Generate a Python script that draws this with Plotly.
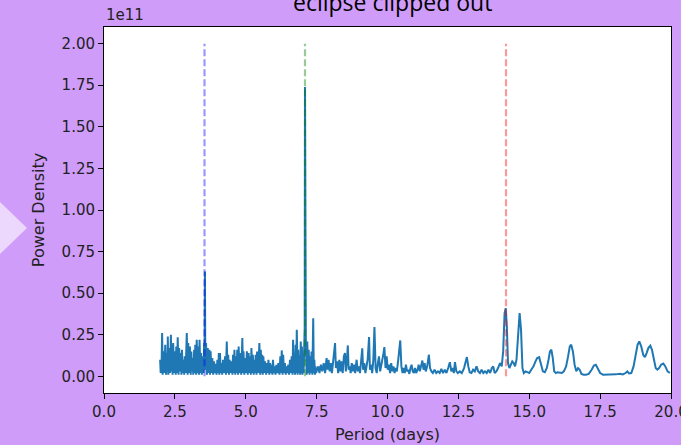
import plotly.graph_objects as go

# ---------------- data (power in units of 1e11) ----------------
period_dense = [
    1.98, 2.00, 2.03, 2.05, 2.07, 2.10, 2.13, 2.16, 2.19, 2.22,
    2.24, 2.25, 2.27, 2.30, 2.33, 2.36, 2.38, 2.40, 2.42, 2.44,
    2.47, 2.50, 2.53, 2.55, 2.58, 2.60, 2.63, 2.65, 2.68, 2.70,
    2.73, 2.75, 2.78, 2.80, 2.83, 2.85, 2.88, 2.92, 2.95, 2.97,
    3.00, 3.03, 3.06, 3.08, 3.10, 3.12, 3.15, 3.18, 3.20, 3.22,
    3.25, 3.27, 3.30, 3.32, 3.35, 3.37, 3.40, 3.42, 3.45, 3.48,
    3.51, 3.53, 3.545, 3.56, 3.575, 3.60, 3.63, 3.66, 3.69, 3.72,
    3.74, 3.76, 3.79, 3.82, 3.85, 3.88, 3.91, 3.94, 3.97, 4.00,
    4.03, 4.05, 4.07, 4.09, 4.12, 4.14, 4.17, 4.20, 4.24, 4.27,
    4.30, 4.33, 4.36, 4.38, 4.41, 4.43, 4.47, 4.50, 4.53, 4.55,
    4.58, 4.60, 4.63, 4.66, 4.68, 4.70, 4.73, 4.75, 4.78, 4.80,
    4.84, 4.88, 4.90, 4.92, 4.95, 4.98, 5.01, 5.04, 5.07, 5.10,
    5.13, 5.15, 5.18, 5.20, 5.23, 5.25, 5.28, 5.30, 5.33, 5.35,
    5.38, 5.40, 5.44, 5.48, 5.51, 5.53, 5.56, 5.58, 5.60, 5.62,
    5.65, 5.68, 5.72, 5.75, 5.78, 5.80, 5.83, 5.86, 5.89, 5.92,
    5.94, 5.96, 5.99, 6.02, 6.05, 6.08, 6.12, 6.15, 6.19, 6.22,
    6.25, 6.27, 6.30, 6.32, 6.35, 6.38, 6.41, 6.44, 6.47, 6.50,
    6.53, 6.56, 6.59, 6.62, 6.65, 6.67, 6.70, 6.72, 6.74, 6.76,
    6.78, 6.80, 6.83, 6.85, 6.88, 6.90, 6.92, 6.94, 6.96, 6.98,
    7.00, 7.02, 7.04, 7.06, 7.08, 7.09, 7.10, 7.12, 7.15, 7.17,
    7.20, 7.22, 7.25, 7.27, 7.30, 7.32, 7.35, 7.38, 7.40, 7.42,
    7.44, 7.46, 7.48,
]
power_dense = [
    0.10, 0.02, 0.05, 0.26, 0.01, 0.15, 0.02, 0.19, 0.01, 0.14,
    0.03, 0.24, 0.01, 0.17, 0.02, 0.25, 0.03, 0.19, 0.01, 0.20,
    0.02, 0.15, 0.01, 0.18, 0.02, 0.235, 0.01, 0.17, 0.03, 0.14,
    0.01, 0.16, 0.02, 0.10, 0.01, 0.12, 0.02, 0.26, 0.01, 0.20,
    0.02, 0.18, 0.01, 0.15, 0.03, 0.11, 0.01, 0.16, 0.02, 0.19,
    0.01, 0.22, 0.02, 0.18, 0.01, 0.22, 0.02, 0.14, 0.01, 0.12,
    0.02, 0.20, 0.05, 0.63, 0.04, 0.20, 0.01, 0.17, 0.02, 0.16,
    0.01, 0.15, 0.02, 0.11, 0.01, 0.09, 0.02, 0.075, 0.01, 0.10,
    0.02, 0.14, 0.01, 0.14, 0.02, 0.08, 0.01, 0.10, 0.02, 0.12,
    0.01, 0.21, 0.02, 0.13, 0.01, 0.10, 0.02, 0.09, 0.01, 0.13,
    0.02, 0.16, 0.01, 0.12, 0.02, 0.16, 0.01, 0.18, 0.02, 0.14,
    0.01, 0.23, 0.02, 0.15, 0.01, 0.11, 0.02, 0.15, 0.01, 0.14,
    0.02, 0.12, 0.01, 0.17, 0.02, 0.13, 0.01, 0.10, 0.02, 0.13,
    0.01, 0.15, 0.02, 0.20, 0.01, 0.16, 0.02, 0.13, 0.01, 0.12,
    0.02, 0.09, 0.01, 0.08, 0.02, 0.10, 0.01, 0.08, 0.02, 0.07,
    0.01, 0.10, 0.02, 0.06, 0.01, 0.07, 0.02, 0.08, 0.01, 0.12,
    0.02, 0.156, 0.01, 0.13, 0.02, 0.08, 0.01, 0.06, 0.02, 0.07,
    0.01, 0.10, 0.02, 0.12, 0.01, 0.22, 0.02, 0.14, 0.01, 0.19,
    0.02, 0.28, 0.01, 0.16, 0.02, 0.12, 0.01, 0.21, 0.02, 0.18,
    0.01, 0.10, 0.02, 0.20, 0.30, 1.74, 0.30, 0.20, 0.01, 0.21,
    0.02, 0.16, 0.01, 0.12, 0.02, 0.15, 0.01, 0.35, 0.02, 0.10,
    0.01, 0.06, 0.02,
]

period_mid = [
    7.52, 7.56, 7.60, 7.65, 7.70, 7.75, 7.80, 7.85, 7.88, 7.92,
    7.96, 8.00, 8.04, 8.10, 8.15, 8.18, 8.22, 8.26, 8.30, 8.34,
    8.38, 8.42, 8.46, 8.50, 8.53, 8.57, 8.60, 8.63, 8.67, 8.70,
    8.74, 8.78, 8.82, 8.86, 8.91, 8.95, 8.99, 9.03, 9.07, 9.11,
    9.14, 9.18, 9.22, 9.26, 9.30, 9.35, 9.38, 9.42, 9.46, 9.50,
    9.54, 9.58, 9.62, 9.66, 9.70, 9.74, 9.78, 9.82, 9.86, 9.89,
    9.93, 9.97, 10.01, 10.05, 10.09, 10.13, 10.17, 10.21, 10.25, 10.29,
    10.33, 10.38, 10.42, 10.45, 10.49, 10.53, 10.57, 10.61, 10.65, 10.69,
    10.73, 10.77, 10.81, 10.85, 10.89, 10.93, 10.97, 11.01, 11.06, 11.10,
    11.14, 11.18, 11.23, 11.27, 11.31, 11.35, 11.40, 11.46, 11.50, 11.55,
    11.60, 11.66, 11.72, 11.78, 11.84, 11.90, 11.96,
]
power_mid = [
    0.04, 0.06, 0.02, 0.07, 0.03, 0.08, 0.02, 0.11, 0.04, 0.10,
    0.03, 0.08, 0.02, 0.14, 0.20, 0.05, 0.09, 0.02, 0.10, 0.03,
    0.09, 0.02, 0.12, 0.14, 0.03, 0.10, 0.186, 0.04, 0.06, 0.02,
    0.08, 0.03, 0.07, 0.02, 0.10, 0.03, 0.06, 0.02, 0.09, 0.168,
    0.04, 0.08, 0.02, 0.06, 0.10, 0.236, 0.04, 0.07, 0.02, 0.10,
    0.296, 0.05, 0.02, 0.08, 0.12, 0.03, 0.06, 0.10, 0.14, 0.176,
    0.05, 0.12, 0.04, 0.07, 0.02, 0.08, 0.03, 0.06, 0.02, 0.05,
    0.03, 0.10, 0.18, 0.216, 0.06, 0.02, 0.05, 0.02, 0.07, 0.03,
    0.04, 0.015, 0.05, 0.07, 0.03, 0.02, 0.05, 0.02, 0.04, 0.07,
    0.03, 0.06, 0.095, 0.04, 0.08, 0.03, 0.06, 0.13, 0.05, 0.03,
    0.02, 0.04, 0.02, 0.03, 0.02, 0.045, 0.02,
]

period_tail = [
    12.02, 12.08, 12.14, 12.20, 12.25, 12.30, 12.34, 12.38, 12.43, 12.48,
    12.55, 12.62, 12.70, 12.76, 12.80, 12.85, 12.90, 12.96, 13.02, 13.08,
    13.14, 13.20, 13.26, 13.32, 13.38, 13.44, 13.50, 13.56, 13.62, 13.68,
    13.73, 13.78, 13.84, 13.90, 13.97, 14.03, 14.08, 14.13, 14.17, 14.21,
    14.25, 14.30, 14.35, 14.40, 14.45, 14.50, 14.55, 14.61, 14.66, 14.71,
    14.76, 14.81, 14.87, 14.93, 15.00, 15.07, 15.15, 15.22, 15.28, 15.35,
    15.42, 15.48, 15.55, 15.62, 15.68, 15.73, 15.78, 15.83, 15.88, 15.94,
    16.00, 16.08, 16.15, 16.22, 16.30, 16.37, 16.43, 16.48, 16.54, 16.60,
    16.66, 16.72, 16.78, 16.84, 16.92, 17.00, 17.10, 17.20, 17.28, 17.35,
    17.42, 17.50, 17.60, 17.75, 17.90, 18.05, 18.20, 18.30, 18.40, 18.46,
    18.52, 18.60, 18.68, 18.75, 18.82, 18.88, 18.95, 19.02, 19.08, 19.14,
    19.20, 19.27, 19.33, 19.40, 19.46, 19.52, 19.58, 19.65, 19.73, 19.80,
    19.88, 19.96,
]
power_tail = [
    0.04, 0.02, 0.05, 0.085, 0.03, 0.05, 0.02, 0.085, 0.03, 0.02,
    0.03, 0.02, 0.05, 0.10, 0.116, 0.06, 0.025, 0.02, 0.04, 0.03,
    0.06, 0.03, 0.02, 0.04, 0.02, 0.03, 0.02, 0.04, 0.02, 0.05,
    0.06, 0.02, 0.03, 0.05, 0.08, 0.06, 0.15, 0.38, 0.41, 0.30,
    0.08, 0.05, 0.07, 0.09, 0.08, 0.06, 0.10, 0.30, 0.38, 0.28,
    0.05, 0.02, 0.03, 0.025, 0.02, 0.04, 0.06, 0.09, 0.11, 0.115,
    0.07, 0.03, 0.025, 0.05, 0.10, 0.15, 0.16, 0.11, 0.03, 0.02,
    0.025, 0.02, 0.02, 0.03, 0.06, 0.12, 0.18, 0.19, 0.15, 0.07,
    0.03, 0.05, 0.04, 0.015, 0.01, 0.01, 0.015, 0.04, 0.065, 0.07,
    0.05, 0.02, 0.01, 0.01, 0.012, 0.012, 0.015, 0.012, 0.02, 0.03,
    0.018, 0.02, 0.06, 0.13, 0.19, 0.21, 0.18, 0.13, 0.116, 0.14,
    0.17, 0.185, 0.16, 0.10, 0.05, 0.04, 0.05, 0.07, 0.077, 0.06,
    0.03, 0.02,
]

harmonic_periods = [3.545, 7.09, 14.18]
harmonic_colors = ["#0000ff", "#008000", "#ff0000"]
vline_top = 2.0

y_ticks = [0.0, 0.25, 0.5, 0.75, 1.0, 1.25, 1.5, 1.75, 2.0]
y_ticklabels = ["0.00", "0.25", "0.50", "0.75", "1.00", "1.25", "1.50", "1.75", "2.00"]
x_ticks = [0.0, 2.5, 5.0, 7.5, 10.0, 12.5, 15.0, 17.5, 20.0]
x_ticklabels = ["0.0", "2.5", "5.0", "7.5", "10.0", "12.5", "15.0", "17.5", "20.0"]

assert len(period_dense) == len(power_dense)
assert len(period_mid) == len(power_mid)
assert len(period_tail) == len(power_tail)

period = period_dense + period_mid + period_tail
power = power_dense + power_mid + power_tail

# ---------------- figure ----------------
W, H = 681, 445
ML, MR, MT, MB = 104, 10, 27, 52
PW, PH = W - ML - MR, H - MT - MB
BG = "#D09CFA"
FONT = "DejaVu Sans"
FS = 15
FS_TITLE = 16


def px_x(px):
    return (px - ML) / PW


def px_y(py):
    return (H - MB - py) / PH


fig = go.Figure()
fig.add_trace(go.Scatter(
    x=period, y=power, mode="lines",
    line=dict(color="#1f77b4", width=2), showlegend=False, hoverinfo="skip",
))
for p, c in zip(harmonic_periods, harmonic_colors):
    fig.add_trace(go.Scatter(
        x=[p, p], y=[0, vline_top], mode="lines",
        line=dict(color=c, width=2.2, dash="7px,3px"), opacity=0.4,
        showlegend=False, hoverinfo="skip",
    ))

axis_common = dict(
    showline=True, linecolor="black", linewidth=1, mirror=True,
    ticks="outside", ticklen=5, tickwidth=1, tickcolor="black",
    showgrid=False, zeroline=False, automargin=False,
    tickfont=dict(family=FONT, size=FS, color="#222"),
)

fig.update_layout(
    width=W, height=H,
    margin=dict(l=ML, r=MR, t=MT, b=MB, pad=0, autoexpand=False),
    paper_bgcolor=BG, plot_bgcolor="white",
    xaxis=dict(range=[0, 20], tickvals=x_ticks, ticktext=x_ticklabels,
               ticklabeloverflow="allow",
               title=dict(text="Period (days)", font=dict(family=FONT, size=FS_TITLE, color="#222"), standoff=8),
               **axis_common),
    yaxis=dict(range=[-0.1, 2.1], tickvals=y_ticks, ticktext=y_ticklabels,
               title=dict(text="Power Density", font=dict(family=FONT, size=FS_TITLE, color="#222"), standoff=12),
               **axis_common),
    shapes=[dict(type="path", xref="paper", yref="paper",
                 path="M %f %f L %f %f L %f %f Z" % (
                     px_x(-2), px_y(200), px_x(27), px_y(228), px_x(-2), px_y(256)),
                 fillcolor="#ECD7FD", line=dict(width=0), layer="below")],
    annotations=[
        dict(text="1e11", xref="paper", yref="paper", x=0, y=1.0, xanchor="left", yanchor="bottom",
             yshift=1, showarrow=False, font=dict(family=FONT, size=FS, color="#222")),
        dict(text="eclipse clipped out", xref="paper", yref="paper", x=px_x(392), y=px_y(2),
             xanchor="center", yanchor="middle", showarrow=False,
             font=dict(family="Open Sans", size=23, color="black")),
    ],
)

fig.write_html(
    "out.html",
    config={"displayModeBar": False},
    post_script="document.body.style.margin='0';document.body.style.background='%s';" % BG,
)
